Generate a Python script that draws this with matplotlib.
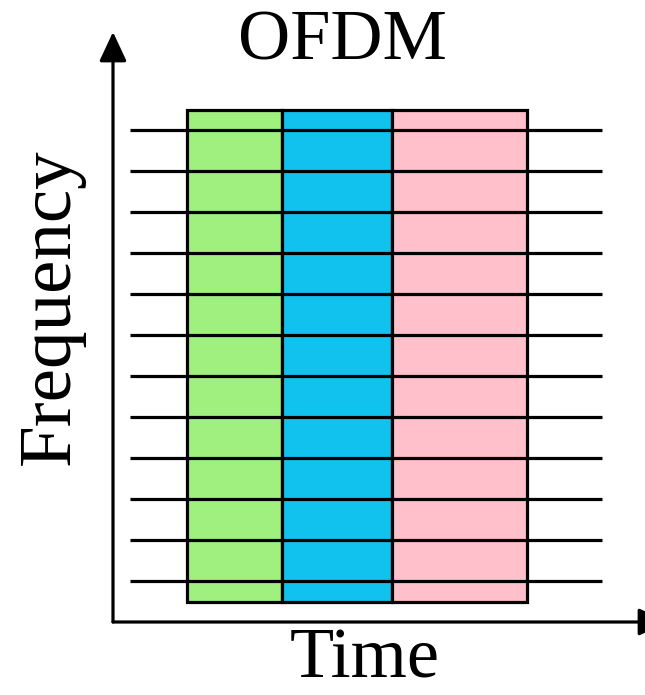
import matplotlib
matplotlib.use("Agg")
import matplotlib.pyplot as plt
from matplotlib.patches import Rectangle

# ---- data ----
title = "OFDM"
x_label = "Time"
y_label = "Frequency"
block_starts = [1.48, 3.38, 5.58]          # time units
block_widths = [1.90, 2.20, 2.70]
block_colors = ["#a0f080", "#12c2ee", "#ffc0cb"]
subcarriers = [1, 2, 3, 4, 5, 6, 7, 8, 9, 10, 11, 12]
band_low, band_high = 0.5, 12.5
line_start, line_end = 0.34, 9.78
x_max, y_max = 11.1, 14.4

plt.rcParams['font.family'] = ['Liberation Serif', 'DejaVu Serif']

W, H = 645, 695
fig = plt.figure(figsize=(W / 100, H / 100), dpi=100)
fig.patch.set_facecolor("white")
left_px, bottom_px = 113, 622
right_px, top_px = 668, 32
ax = fig.add_axes([left_px / W, (H - bottom_px) / H,
                   (right_px - left_px) / W, (bottom_px - top_px) / H])
ax.set_xlim(0, x_max)
ax.set_ylim(0, y_max)
ax.axis("off")

for s, w, c in zip(block_starts, block_widths, block_colors):
    ax.add_patch(Rectangle((s, band_low), w, band_high - band_low,
                           facecolor=c, edgecolor="black", lw=2.3, zorder=1,
                           clip_on=False))

for f in subcarriers:
    ax.plot([line_start, line_end], [f, f], color="black", lw=2.3,
            solid_capstyle="butt", zorder=2, clip_on=False)

arrow = dict(arrowstyle="-|>,head_length=0.9,head_width=0.42",
             mutation_scale=20, lw=2.3, color="black", shrinkA=0, shrinkB=0)
ax.annotate("", xy=(0, y_max), xytext=(0, 0), arrowprops=arrow,
            annotation_clip=False)
ax.annotate("", xy=(x_max, 0), xytext=(0, 0), arrowprops=arrow,
            annotation_clip=False)

fig.text(342 / W, 1 - 42 / H, title, fontsize=52, ha="center", va="center")
fig.text(365 / W, 1 - 660 / H, x_label, fontsize=52, ha="center", va="center")
fig.text(51 / W, 1 - 307 / H, y_label, fontsize=54, ha="center", va="center",
         rotation=90)

fig.savefig("out.png", dpi=100, facecolor="white")
